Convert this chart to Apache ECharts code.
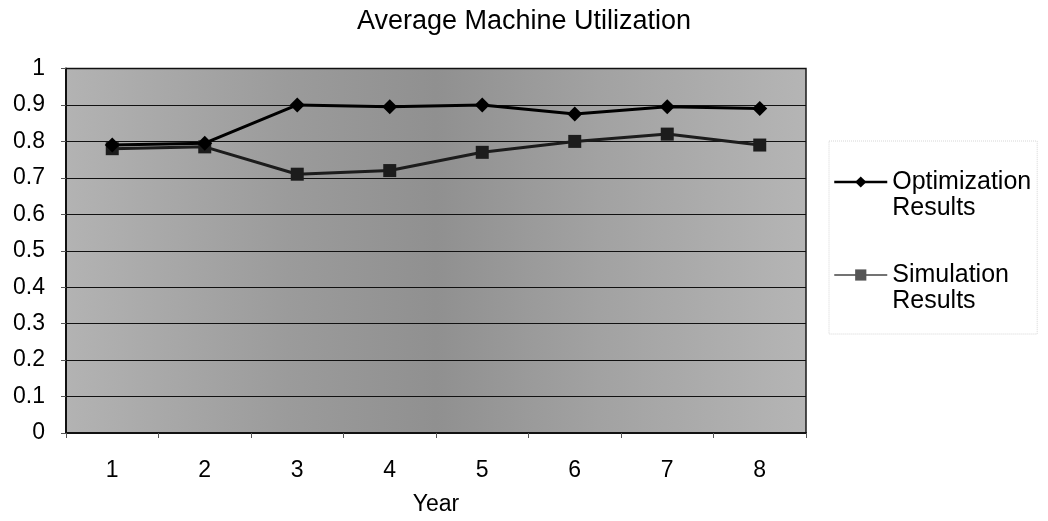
<!DOCTYPE html>
<html>
<head>
<meta charset="utf-8">
<script src="https://cdn.jsdelivr.net/npm/echarts@6/dist/echarts.min.js"></script>
<style>
  html, body { margin: 0; padding: 0; background: #fff; }
  #chart { width: 1048px; height: 521px; }
</style>
</head>
<body>
<div id="chart"></div>
<script>
// Years on the horizontal axis
const years = ['1', '2', '3', '4', '5', '6', '7', '8'];
// Average machine utilization per year
const optimizationResults = [0.79, 0.795, 0.90, 0.895, 0.90, 0.875, 0.895, 0.89];
const simulationResults = [0.78, 0.785, 0.71, 0.72, 0.77, 0.80, 0.82, 0.79];
// Value axis labels, from 0 to 1 in steps of 0.1
const yTickLabels = ['0', '0.1', '0.2', '0.3', '0.4', '0.5', '0.6', '0.7', '0.8', '0.9', '1'];

const FONT = '"Liberation Sans", Arial, sans-serif';
const LH = 26;

const chart = echarts.init(document.getElementById('chart'), null, { renderer: 'canvas' });

chart.setOption({
  animation: false,
  backgroundColor: '#ffffff',
  title: {
    text: 'Average Machine Utilization',
    left: 'center',
    top: 8,
    padding: 0,
    textStyle: { fontFamily: FONT, fontSize: 27, fontWeight: 'normal', color: '#000' }
  },
  grid: {
    left: 66,
    right: 242,
    top: 68.5,
    bottom: 87.5,
    show: true,
    borderColor: '#1a1a1a',
    borderWidth: 1.5,
    backgroundColor: {
      type: 'linear', x: 0, y: 0, x2: 1, y2: 0,
      colorStops: [
        { offset: 0, color: '#b3b3b3' },
        { offset: 0.3, color: '#9b9b9b' },
        { offset: 0.5, color: '#909090' },
        { offset: 0.72, color: '#a2a2a2' },
        { offset: 1, color: '#b5b5b5' }
      ]
    }
  },
  legend: {
    orient: 'vertical',
    left: 829,
    top: 141,
    padding: [2, 6, 20, 4],
    itemWidth: 53,
    itemHeight: 14,
    itemGap: 15,
    borderColor: '#d6d6d6',
    borderWidth: 1,
    borderType: 'dotted',
    // a leading blank line lifts the icon to the first text line
    formatter: function (name) { return '\n' + name; },
    textStyle: {
      fontFamily: FONT,
      fontSize: 25,
      color: '#000',
      lineHeight: LH
    },
    data: [
      { name: 'Optimization\nResults', itemStyle: { color: '#000' }, lineStyle: { color: '#000', width: 2.5 } },
      { name: 'Simulation\nResults', itemStyle: { color: '#555' }, lineStyle: { color: '#444', width: 1.5 } }
    ]
  },
  xAxis: {
    type: 'category',
    data: years,
    boundaryGap: true,
    name: 'Year',
    nameLocation: 'middle',
    nameGap: 60,
    nameTextStyle: { fontFamily: FONT, fontSize: 23, color: '#000' },
    axisLine: { show: true, lineStyle: { color: '#111', width: 2 } },
    axisTick: { show: true, length: 5, lineStyle: { color: '#555' } },
    axisLabel: { fontFamily: FONT, fontSize: 23, color: '#000', margin: 26 },
    splitLine: { show: false }
  },
  yAxis: {
    type: 'value',
    min: 0,
    max: 1,
    interval: 0.1,
    axisLine: { show: true, lineStyle: { color: '#111', width: 2 } },
    axisTick: { show: true, length: 5, lineStyle: { color: '#555' } },
    axisLabel: {
      fontFamily: FONT, fontSize: 23, color: '#000', margin: 21,
      formatter: function (v) { return yTickLabels[Math.round(v * 10)]; }
    },
    splitLine: { show: true, lineStyle: { color: '#111', width: 1 } }
  },
  series: [
    {
      name: 'Optimization\nResults',
      type: 'line',
      data: optimizationResults,
      symbol: 'diamond',
      symbolSize: 15,
      color: '#000',
      lineStyle: { color: '#000', width: 3 },
      itemStyle: { color: '#000' },
      z: 3
    },
    {
      name: 'Simulation\nResults',
      type: 'line',
      data: simulationResults,
      symbol: 'rect',
      symbolSize: 13,
      color: '#1c1c1c',
      lineStyle: { color: '#1c1c1c', width: 3 },
      itemStyle: { color: '#1c1c1c' },
      z: 2
    }
  ]
});
</script>
</body>
</html>
